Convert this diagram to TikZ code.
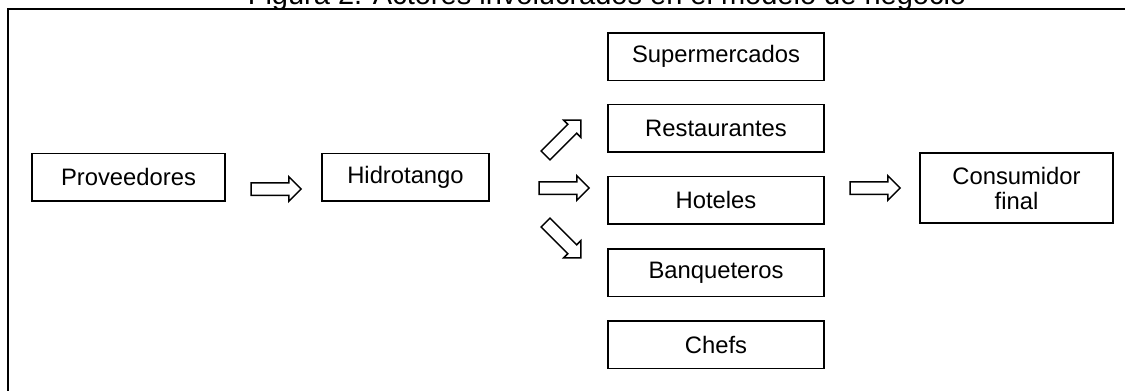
\documentclass[tikz,border=0pt]{standalone}
\usepackage{fontspec}
\setmainfont{Liberation Sans}
\usetikzlibrary{shapes.arrows}
\begin{document}
\begin{tikzpicture}[x=0.5pt,y=-0.5pt,
  actor/.style={draw, line width=0.75pt, minimum height=23.75pt, inner sep=0pt,
    font=\fontsize{11.9}{12.5}\selectfont, align=center},
  blockarrow/.style={draw, line width=0.75pt, single arrow, minimum height=25pt,
    inner xsep=0pt, inner ysep=2.75pt, single arrow head extend=3pt,
    single arrow head indent=0pt, anchor=center},
  frame/.style={draw, line width=1pt}]
\useasboundingbox (0,0) rectangle (1125,391);
\draw[frame] (8,8.5) rectangle (1220,430);
\node[font=\fontsize{14.5}{16}\selectfont, anchor=base] (title) at (607,4.5) {Figura 2. Actores involucrados en el modelo de negocio};
\node[actor, minimum width=96.5pt] (prov) at (128.5,177) {Proveedores};
\node[actor, minimum width=83.5pt] (hidro) at (405.5,177) {Hidrotango};
\node[actor, minimum width=108pt] (super) at (716,56.5) {Supermercados};
\node[actor, minimum width=108pt] (rest) at (716,128) {Restaurantes};
\node[actor, minimum width=108pt] (hot) at (716,200) {Hoteles};
\node[actor, minimum width=108pt] (banq) at (716,272.5) {Banqueteros};
\node[actor, minimum width=108pt] (chefs) at (716,344.5) {Chefs};
\node[actor, minimum width=96.5pt, minimum height=35pt] (cons) at (1016.5,188) {Consumidor\\final};
\node[blockarrow] (a1) at (273,189) {};
\node[blockarrow] (a2) at (561,188) {};
\node[blockarrow, rotate=45] (a3) at (561,140) {};
\node[blockarrow, rotate=-45] (a4) at (561,238) {};
\node[blockarrow] (a5) at (872,188) {};
\end{tikzpicture}
\end{document}
